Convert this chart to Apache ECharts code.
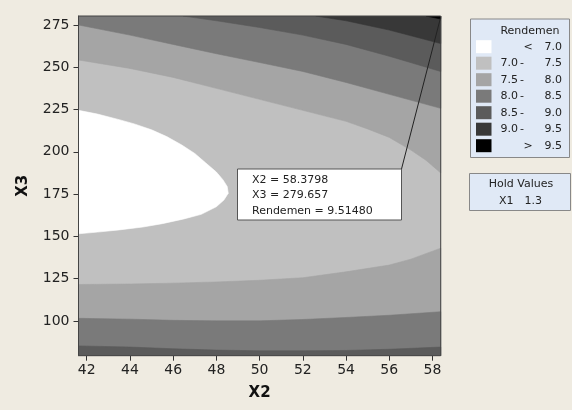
<!DOCTYPE html>
<html>
<head>
<meta charset="utf-8">
<script src="https://cdn.jsdelivr.net/npm/echarts@6/dist/echarts.min.js"></script>
<style>
  html, body { margin: 0; padding: 0; background: #efebe1; }
  #chart { width: 572px; height: 410px; }
</style>
</head>
<body>
<div id="chart"></div>
<script>
// axis ranges and ticks
const xMin = 41.62, xMax = 58.38
const yMin = 79.4, yMax = 280.3
const x2Ticks = [42, 44, 46, 48, 50, 52, 54, 56, 58]
const x3Ticks = [100, 125, 150, 175, 200, 225, 250, 275]

// legend bands (Rendemen)
const bandLow = ['', '7.0', '7.5', '8.0', '8.5', '9.0', '']
const bandHigh = ['7.0', '7.5', '8.0', '8.5', '9.0', '9.5', '9.5']
const bandColors = ['#ffffff', '#c0c0c0', '#a5a5a5', '#7a7a7a', '#5b5b5b', '#383838', '#000000']

// contour lines, [X2, X3]
const upper75 = [[41.62, 254.3], [44, 249.3], [46, 244], [48, 237.5], [50, 231], [52, 224.5], [54, 218], [55, 213.5], [56, 208.5], [57, 201], [57.7, 195], [58.38, 187.5]]
const upper80 = [[41.62, 275], [44, 269], [46, 263.5], [48, 258], [50, 252.8], [52, 247.5], [54, 241], [56, 234], [58.38, 225.7]]
const upper85 = [[46.46, 280.3], [48, 277.5], [50, 273.5], [52, 269], [54, 263.5], [56, 256.5], [58.38, 247.5]]
const upper90 = [[52.6, 280.3], [54, 277.5], [56, 272], [58.38, 264]]
const upper95 = [[57.7, 280.3], [58.38, 278.5]]
const lower75 = [[41.62, 121.5], [44, 121.8], [46, 122.3], [48, 123], [50, 124], [52, 125.5], [54, 129], [56, 133], [57, 136.5], [58.38, 143]]
const lower80 = [[41.62, 101.5], [44, 101], [46, 100.3], [48, 100], [50, 100], [52, 100.8], [54, 102], [56, 103.3], [58.38, 105.4]]
const lower85 = [[41.62, 85.2], [44, 84.5], [46, 83.5], [48, 82.7], [50, 82.3], [52, 82.3], [54, 82.5], [56, 83.2], [58.38, 84.5]]
const below70 = [[41.62, 224.5], [42.5, 222.3], [43.5, 219], [44.2, 216.5], [45, 213], [45.7, 209], [46.4, 204], [47, 199], [47.5, 193.5], [48, 188], [48.3, 183.5], [48.5, 179.5], [48.55, 175.5], [48.35, 171.5], [48, 167.5], [47.3, 163], [46.5, 160.3], [45.5, 157.5], [44.6, 155.5], [43.5, 153.8], [42.5, 152.5], [41.62, 151.5]]

// hold value and the flagged point
const holdName = 'X1', holdValue = '1.3'
const flagPoint = [58.3798, 279.657]
const flagValue = '9.51480'

const TL = [xMin, yMax], TR = [xMax, yMax], BL = [xMin, yMin], BR = [xMax, yMin]
// filled regions, painted in order
const regions = [
  { pts: [BL, BR, TR, TL], band: 1 },
  { pts: upper75.concat([TR, TL]), band: 2 },
  { pts: upper80.concat([TR, TL]), band: 3 },
  { pts: upper85.concat([TR]), band: 4 },
  { pts: upper90.concat([TR]), band: 5 },
  { pts: upper95.concat([TR]), band: 6 },
  { pts: lower75.concat([BR, BL]), band: 2 },
  { pts: lower80.concat([BR, BL]), band: 3 },
  { pts: lower85.concat([BR, BL]), band: 4 },
  { pts: below70, band: 0 }
]

const font = 'DejaVu Sans'
const chart = echarts.init(document.getElementById('chart'))

chart.setOption({
  backgroundColor: '#efebe1',
  animation: false,
  grid: { left: 78.5, top: 16, right: 131.3, bottom: 54.3 },
  xAxis: {
    type: 'value', min: xMin, max: xMax,
    name: 'X2', nameLocation: 'middle', nameGap: 30,
    nameTextStyle: { fontFamily: font, fontWeight: 'bold', fontSize: 15, color: '#111' },
    axisLine: { lineStyle: { color: '#333' } },
    axisTick: { customValues: x2Ticks, length: 5, lineStyle: { color: '#333' } },
    axisLabel: { customValues: x2Ticks, margin: 8, fontFamily: font, fontSize: 14, color: '#222' },
    splitLine: { show: false }
  },
  yAxis: {
    type: 'value', min: yMin, max: yMax,
    name: 'X3', nameLocation: 'middle', nameGap: 48, nameRotate: 90,
    nameTextStyle: { fontFamily: font, fontWeight: 'bold', fontSize: 15, color: '#111' },
    axisLine: { show: true, lineStyle: { color: '#333' } },
    axisTick: { show: true, customValues: x3Ticks, length: 5, lineStyle: { color: '#333' } },
    axisLabel: { customValues: x3Ticks, margin: 9, fontFamily: font, fontSize: 14, color: '#222' },
    splitLine: { show: false }
  },
  series: [{
    type: 'custom',
    silent: true,
    clip: true,
    data: regions.map((r, i) => [i]),
    renderItem: function (params, api) {
      const r = regions[params.dataIndex]
      const c = bandColors[r.band]
      return {
        type: 'polygon',
        shape: { points: r.pts.map(p => api.coord(p)) },
        style: { fill: c, stroke: c, lineWidth: 0.6 }
      }
    }
  }]
})

// legend and annotation boxes
const g = []
const p0 = chart.convertToPixel({ gridIndex: 0 }, TL)
const p1 = chart.convertToPixel({ gridIndex: 0 }, BR)
g.push({
  type: 'rect', z: 50,
  shape: { x: p0[0], y: p0[1], width: p1[0] - p0[0], height: p1[1] - p0[1] },
  style: { fill: null, stroke: '#444', lineWidth: 1 }
})

const lx = 470.5, ly = 19
g.push({ type: 'rect', z: 50, shape: { x: lx, y: ly, width: 99, height: 138.5 }, style: { fill: '#e0e9f6', stroke: '#888', lineWidth: 1 } })
g.push({ type: 'text', z: 51, style: { text: 'Rendemen', x: 530, y: 31.5, align: 'center', verticalAlign: 'middle', font: '11px ' + font, fill: '#222' } })
bandColors.forEach((c, i) => {
  const cy = 46.7 + i * 16.5
  g.push({ type: 'rect', z: 51, shape: { x: 476, y: cy - 6.5, width: 15.5, height: 13 }, style: { fill: c } })
  const ts = { verticalAlign: 'middle', font: '11px ' + font, fill: '#222', y: cy }
  if (i === 0) {
    g.push({ type: 'text', z: 51, style: Object.assign({ text: '<', x: 528, align: 'center' }, ts) })
  } else if (i === bandColors.length - 1) {
    g.push({ type: 'text', z: 51, style: Object.assign({ text: '>', x: 528, align: 'center' }, ts) })
  } else {
    g.push({ type: 'text', z: 51, style: Object.assign({ text: bandLow[i], x: 500.5, align: 'left' }, ts) })
    g.push({ type: 'text', z: 51, style: Object.assign({ text: '-', x: 522, align: 'center' }, ts) })
  }
  g.push({ type: 'text', z: 51, style: Object.assign({ text: bandHigh[i], x: 562, align: 'right' }, ts) })
})

g.push({ type: 'rect', z: 50, shape: { x: 469.5, y: 173.5, width: 101, height: 37 }, style: { fill: '#e0e9f6', stroke: '#888', lineWidth: 1 } })
g.push({ type: 'text', z: 51, style: { text: 'Hold Values', x: 521, y: 184.5, align: 'center', verticalAlign: 'middle', font: '11px ' + font, fill: '#222' } })
g.push({ type: 'text', z: 51, style: { text: holdName, x: 499, y: 201.5, align: 'left', verticalAlign: 'middle', font: '11px ' + font, fill: '#222' } })
g.push({ type: 'text', z: 51, style: { text: holdValue, x: 542, y: 201.5, align: 'right', verticalAlign: 'middle', font: '11px ' + font, fill: '#222' } })

// flag box pointing at the corner value
const fp = chart.convertToPixel({ gridIndex: 0 }, flagPoint)
const bx = 237.5, by = 169, bw = 164, bh = 51
g.push({ type: 'line', z: 52, shape: { x1: bx + bw, y1: by, x2: fp[0], y2: fp[1] }, style: { stroke: '#222', lineWidth: 1 } })
g.push({ type: 'rect', z: 52, shape: { x: bx, y: by, width: bw, height: bh }, style: { fill: '#fff', stroke: '#555', lineWidth: 1 } })
const flagLines = ['X2 = ' + flagPoint[0], 'X3 = ' + flagPoint[1], 'Rendemen = ' + flagValue]
flagLines.forEach((t, i) => {
  g.push({ type: 'text', z: 53, style: { text: t, x: 252, y: 180 + i * 15.5, verticalAlign: 'middle', font: '11px ' + font, fill: '#222' } })
})

chart.setOption({ graphic: g })
</script>
</body>
</html>
